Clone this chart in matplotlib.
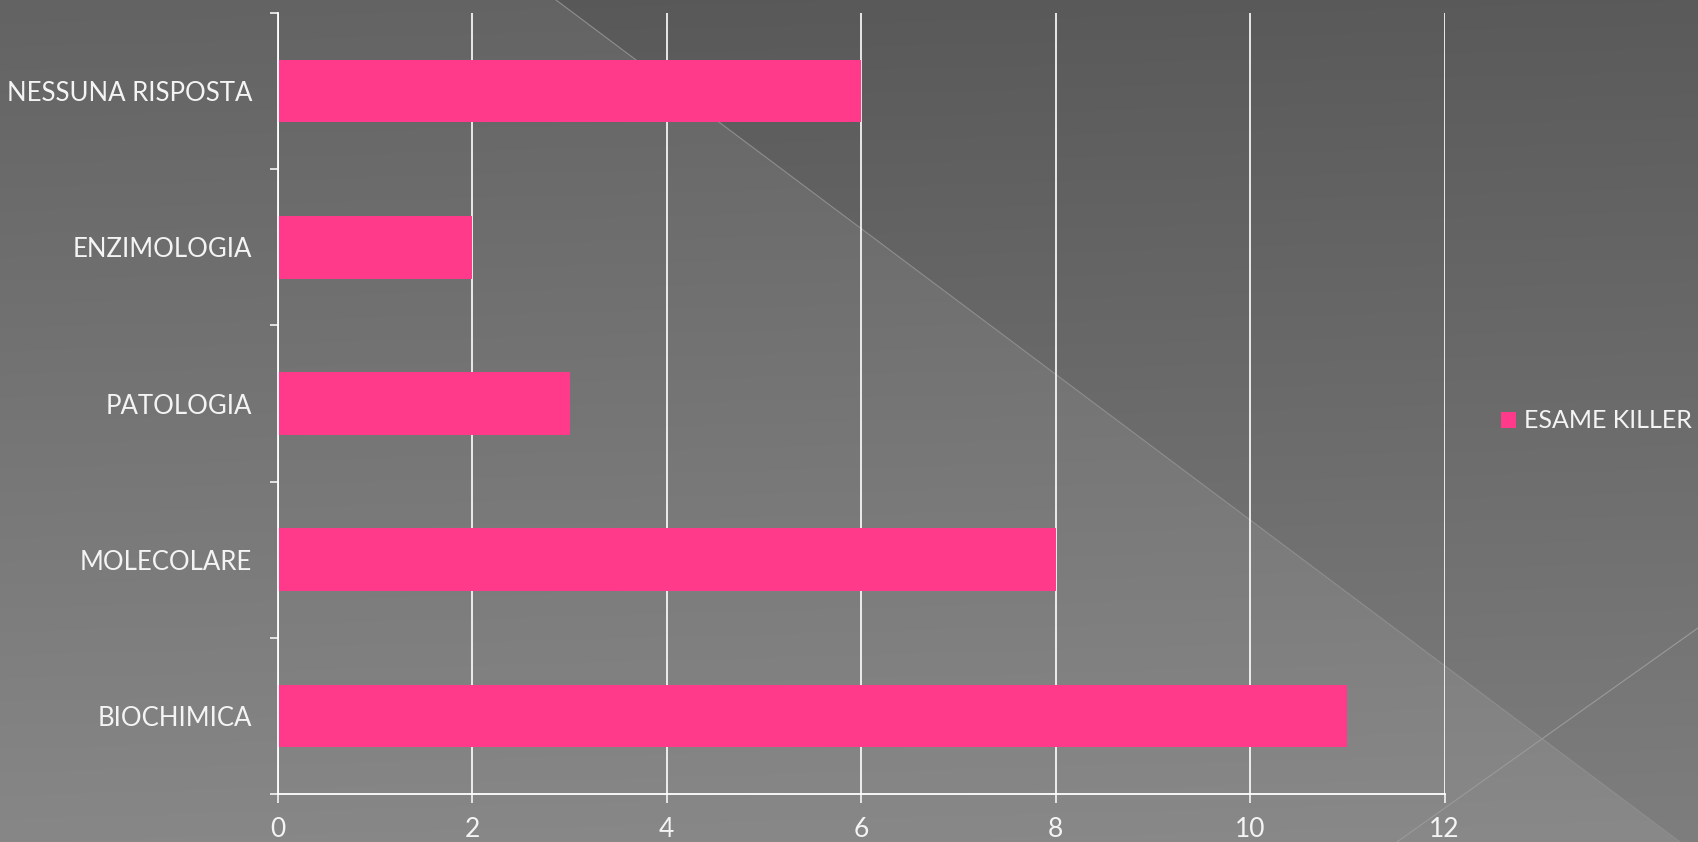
import numpy as np
import matplotlib
matplotlib.use("Agg")
import matplotlib.pyplot as plt
from matplotlib.ticker import FixedLocator

categories = ["BIOCHIMICA", "MOLECOLARE", "PATOLOGIA", "ENZIMOLOGIA", "NESSUNA RISPOSTA"]
values = [11, 8, 3, 2, 6]
series_name = "ESAME KILLER"
x_ticks = [0, 2, 4, 6, 8, 10, 12]

W, H = 1698, 842
fig = plt.figure(figsize=(W / 100, H / 100), dpi=100)

plt.rcParams['font.family'] = ['Lato', 'DejaVu Sans']

# ---- background decoration ----
bg = fig.add_axes([0, 0, 1, 1], zorder=-10)
yy, xx = np.mgrid[0:H, 0:W].astype(float)
img = 99 + 36 * yy / H + 2 * xx / W
above1 = xx > (556 + (1680 - 556) * yy / H)
img[above1] -= 11
img = np.clip(img, 0, 255) / 255.0
bg.imshow(np.dstack([img, img, img]), extent=[0, W, H, 0], aspect='auto', interpolation='bilinear')
bg.plot([556, 1680], [0, 842], color='#8e8e8e', lw=0.8)
bg.plot([1698, 1397], [628, 842], color='#9a9a9a', lw=0.8)
bg.set_xlim(0, W)
bg.set_ylim(H, 0)
bg.axis('off')

# ---- chart ----
left, right, top, bottom = 278, 1444.6, 13, 794
ax = fig.add_axes([left / W, 1 - bottom / H, (right - left) / W, (bottom - top) / H])
ax.patch.set_alpha(0)

ypos = np.arange(len(categories))
ax.barh(ypos, values, height=0.4, color='#FF3A8A', zorder=3, label=series_name)

ax.set_xlim(0, 12)
ax.set_ylim(-0.5, len(categories) - 0.5)
ax.set_xticks(x_ticks)
ax.set_xticklabels([str(t) for t in x_ticks])
ax.set_yticks(ypos)
ax.set_yticklabels(categories)
ax.yaxis.set_minor_locator(FixedLocator(np.arange(-0.5, len(categories), 1.0)))

txtc = '#F4F4F4'
ax.tick_params(axis='y', which='major', length=0, pad=18.5, labelsize=18.5, labelcolor=txtc)
ax.tick_params(axis='y', which='minor', length=6, width=1.1, color='white', direction='out')
ax.tick_params(axis='x', which='major', length=6.5, width=1.1, color='white', direction='out',
               pad=10, labelsize=19, labelcolor=txtc)

ax.grid(axis='x', color='white', lw=1.2, zorder=1)
ax.set_axisbelow(True)
for s in ['top', 'right']:
    ax.spines[s].set_visible(False)
for s in ['left', 'bottom']:
    ax.spines[s].set_color('white')
    ax.spines[s].set_linewidth(1.3)
    ax.spines[s].set_zorder(4)

leg = fig.legend(loc='center left', bbox_to_anchor=(1501 / W, 1 - 421 / H), frameon=False,
                 fontsize=18, handlelength=0.6, handleheight=0.6, handletextpad=0.3,
                 borderpad=0, borderaxespad=0)
for t in leg.get_texts():
    t.set_color(txtc)

fig.savefig("out.png", dpi=100)
